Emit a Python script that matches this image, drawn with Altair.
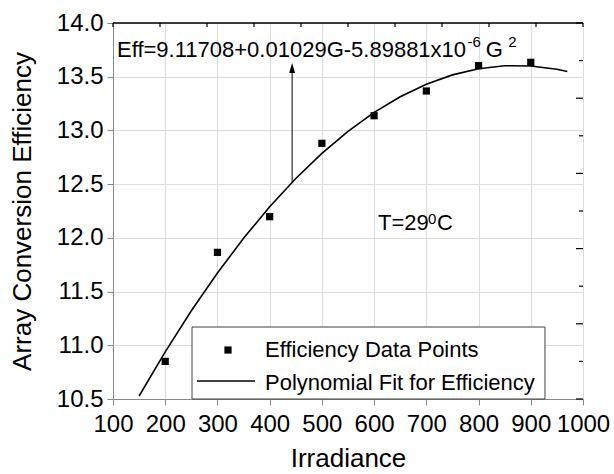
import altair as alt
import pandas as pd

FONT = "Liberation Sans"

# ---- data ----
irradiance = [200, 300, 400, 500, 600, 700, 800, 900]
efficiency = [10.85, 11.865, 12.197, 12.88, 13.137, 13.367, 13.603, 13.634]

fit_g = [150, 200, 250, 300, 350, 400, 450, 500, 550, 600, 650, 700, 750,
         800, 850, 900, 950, 970]
fit_eff = [10.528, 10.939, 11.321, 11.673, 11.996, 12.289, 12.553, 12.787,
           12.992, 13.168, 13.313, 13.430, 13.517, 13.574, 13.602, 13.600,
           13.569, 13.548]

series_labels = ["Efficiency Data Points", "Polynomial Fit for Efficiency"]

x_ticks = list(range(100, 1001, 50))
y_ticks = [10.5 + 0.25 * i for i in range(15)]
top_ticks = [100 + 90 * i for i in range(11)]
right_ticks_long = [10.5 + 0.35 * i for i in range(0, 11, 2)]
right_ticks_short = [10.5 + 0.35 * i for i in range(1, 11, 2)]

W, H = 470, 376

pts = pd.DataFrame({"G": irradiance, "Eff": efficiency})
fit = pd.DataFrame({"G": fit_g, "Eff": fit_eff})
one = pd.DataFrame({"a": [0]})

xscale = alt.Scale(domain=[100, 1000], nice=False, zero=False)
yscale = alt.Scale(domain=[10.5, 14.0], nice=False, zero=False)

x_axis = alt.Axis(
    values=x_ticks,
    tickSize={"condition": {"test": "datum.value % 100 === 0", "value": 6}, "value": 3},
    labelExpr="datum.value % 100 === 0 ? datum.label : ''",
    labelOverlap=False, labelFlush=False, labelFontSize=24, labelPadding=7, format="d",
    title="Irradiance", titleFontSize=26, titlePadding=9, titleFontWeight="normal",
)
maj_y = "abs(datum.value*2 - round(datum.value*2)) < 0.001"
y_axis = alt.Axis(
    values=y_ticks,
    tickSize={"condition": {"test": maj_y, "value": 6}, "value": 3},
    labelExpr=maj_y + " ? datum.label : ''",
    labelOverlap=False, labelFlush=False, labelFontSize=24, labelPadding=4, format=".1f",
    title="Array Conversion Efficiency", titleFontSize=26, titlePadding=21,
    titleFontWeight="normal",
)

curve = alt.Chart(fit).mark_line(color="black", strokeWidth=1.6).encode(
    x=alt.X("G:Q", scale=xscale, axis=x_axis),
    y=alt.Y("Eff:Q", scale=yscale, axis=y_axis),
)

points = alt.Chart(pts).mark_point(shape="square", filled=True, color="black",
                                   opacity=1, size=52).encode(
    x=alt.X("G:Q", scale=xscale),
    y=alt.Y("Eff:Q", scale=yscale),
)

# legend (drawn with marks, in data units)
legend_box = alt.Chart(one).mark_rect(fill="white", stroke="#444", strokeWidth=1).encode(
    x=alt.datum(251.3, scale=xscale), x2=alt.datum(927.2),
    y=alt.datum(11.170, scale=yscale), y2=alt.datum(10.5))
legend_sq = alt.Chart(one).mark_point(shape="square", filled=True, color="black",
                                      opacity=1, size=52).encode(
    x=alt.datum(320.2, scale=xscale), y=alt.datum(10.956, scale=yscale))
legend_ln = alt.Chart(one).mark_rule(color="black", strokeWidth=1.6).encode(
    x=alt.datum(260.9, scale=xscale), x2=alt.datum(371.9), y=alt.datum(10.668, scale=yscale))
legend_txt = alt.Chart(pd.DataFrame({"t": series_labels, "x": [391.1, 391.1],
                                     "y": [10.891, 10.584]})).mark_text(
    align="left", baseline="alphabetic", fontSize=22, font=FONT, color="black").encode(
    x=alt.X("x:Q", scale=xscale), y=alt.Y("y:Q", scale=yscale), text="t:N")

# arrow from curve to equation
arrow_line = alt.Chart(one).mark_rule(color="black", strokeWidth=1).encode(
    x=alt.datum(443, scale=xscale), y=alt.datum(12.52, scale=yscale), y2=alt.datum(13.59)
)
arrow_head = alt.Chart(one).mark_point(
    shape="M0,-1L0.6,1L-0.6,1Z", filled=True, color="black", opacity=1, size=100
).encode(x=alt.datum(443, scale=xscale), y=alt.datum(13.581, scale=yscale))

eq_main = pd.DataFrame({
    "t": ["Eff=9.11708+0.01029G-5.89881x10", "G", "T=29", "C"],
    "x": [107.7, 814.0, 607.4, 720.4],
    "y": [13.6835, 13.6835, 12.073, 12.073],
})
eq_sup = pd.DataFrame({
    "t": ["-6", "2", "0"],
    "x": [779.0, 857.0, 703.2],
    "y": [13.7766, 13.7766, 12.129],
})
txt_main = alt.Chart(eq_main).mark_text(align="left", baseline="alphabetic", fontSize=22,
                                        font=FONT, color="black").encode(
    x=alt.X("x:Q", scale=xscale), y=alt.Y("y:Q", scale=yscale), text="t:N")
txt_sup = alt.Chart(eq_sup).mark_text(align="left", baseline="alphabetic", fontSize=15,
                                      font=FONT, color="black").encode(
    x=alt.X("x:Q", scale=xscale), y=alt.Y("y:Q", scale=yscale), text="t:N")

# frame: top border with inward ticks, right inward ticks
top_border = alt.Chart(one).mark_rule(color="black", strokeWidth=1.5).encode(
    x=alt.datum(100, scale=xscale), x2=alt.datum(1000), y=alt.value(0))
top_tk = alt.Chart(pd.DataFrame({"v": top_ticks})).mark_rule(color="black", strokeWidth=1.2).encode(
    x=alt.X("v:Q", scale=xscale), y=alt.value(0), y2=alt.value(4))
right_long = alt.Chart(pd.DataFrame({"v": right_ticks_long})).mark_rule(color="black", strokeWidth=1.2).encode(
    y=alt.Y("v:Q", scale=yscale), x=alt.value(W - 7), x2=alt.value(W))
right_short = alt.Chart(pd.DataFrame({"v": right_ticks_short})).mark_rule(color="black", strokeWidth=1.2).encode(
    y=alt.Y("v:Q", scale=yscale), x=alt.value(W - 4), x2=alt.value(W))

chart = alt.layer(
    curve, legend_box, points, legend_sq, legend_ln, legend_txt,
    arrow_line, arrow_head, txt_main, txt_sup,
    top_border, top_tk, right_long, right_short,
).properties(
    width=W, height=H,
    autosize=alt.AutoSizeParams(type="none"),
    padding={"left": 113, "top": 23, "right": 31, "bottom": 75},
).configure_view(stroke=None).configure_axis(
    domainColor="black", domainWidth=1.5, tickColor="black", tickWidth=1.5,
    labelColor="black", titleColor="black", labelFont=FONT, titleFont=FONT, grid=False,
).configure(background="white")

chart.save("out.html", embed_options={"renderer": "svg", "actions": False})
